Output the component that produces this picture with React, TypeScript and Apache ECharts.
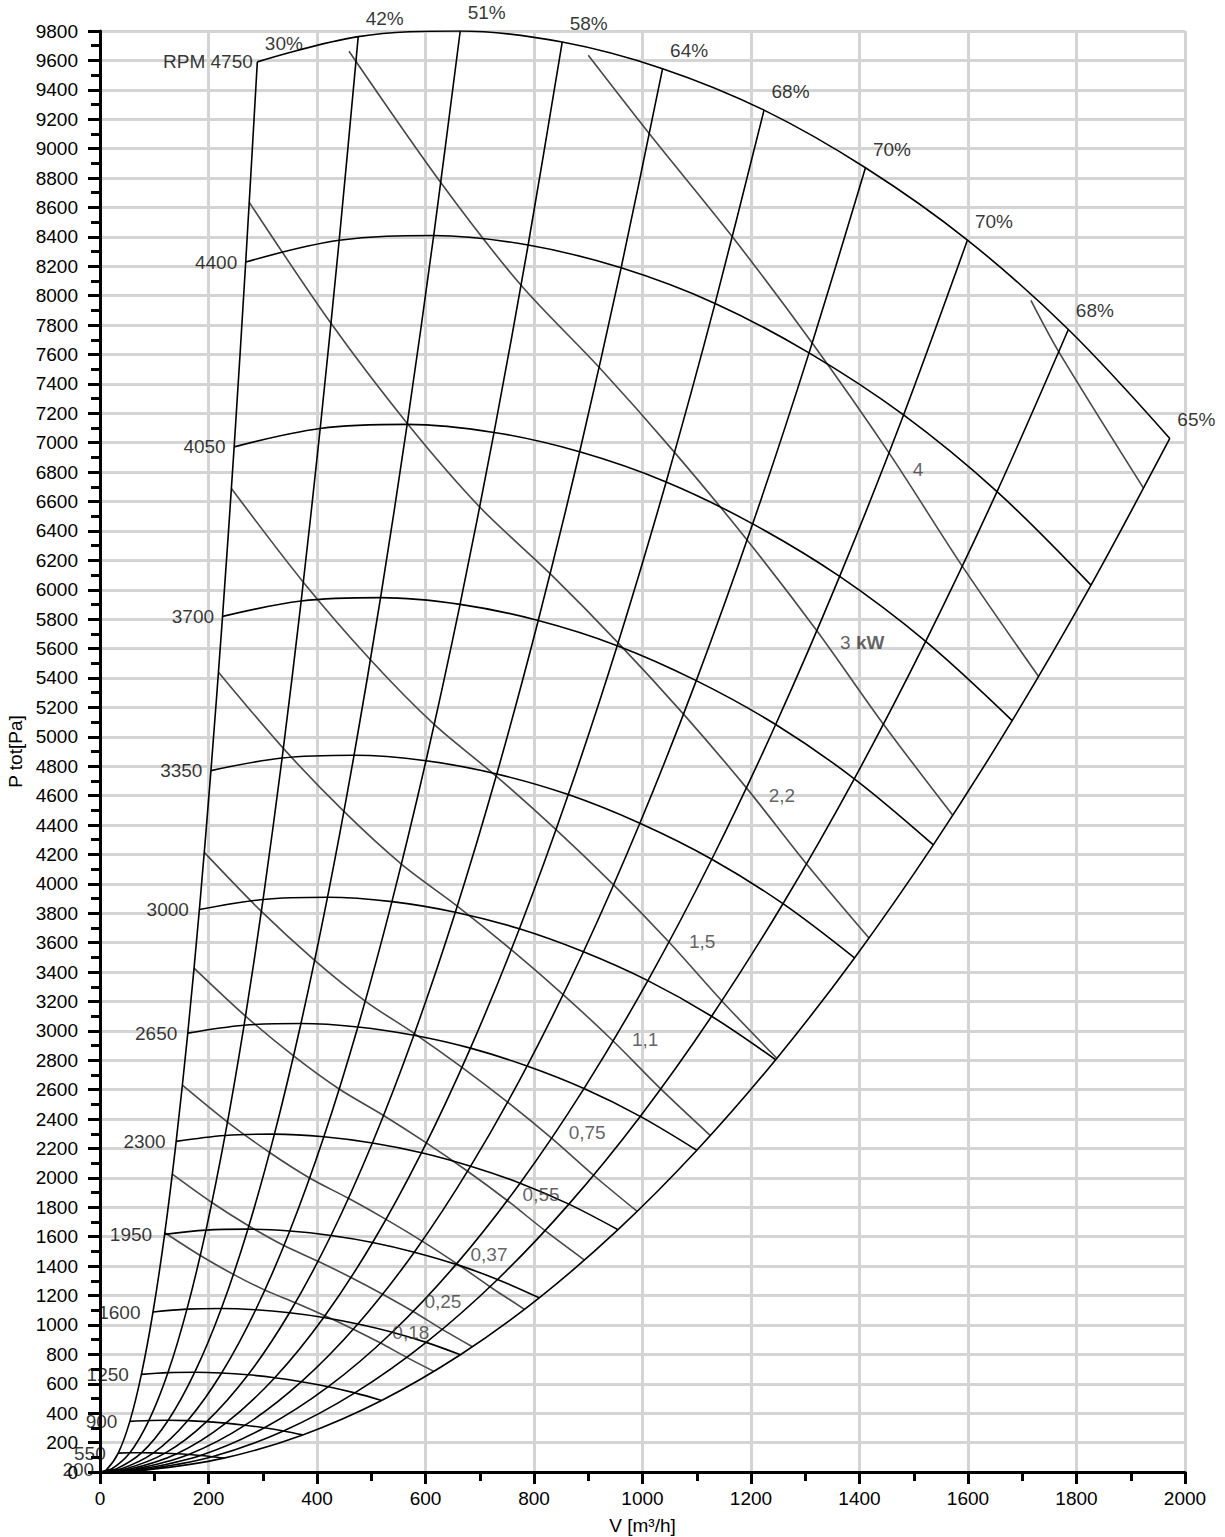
import React, { useEffect, useRef } from "react";
import * as echarts from "echarts";

// Fan speeds of the characteristic curves, top to bottom
const rpmSpeeds = [4750, 4400, 4050, 3700, 3350, 3000, 2650, 2300, 1950, 1600, 1250, 900, 550, 200];

// Efficiency marked at the upper end of each operating line (left boundary ... right boundary)
const efficiencyLabels = ["30%", "42%", "51%", "58%", "64%", "68%", "70%", "70%", "68%", "65%"];

// Flow [m³/h] of each speed curve where it meets the operating lines
const flowByRpm = [
  [290, 476, 664, 852, 1037, 1224, 1411, 1599, 1785, 1972],
  [268.6, 440.9, 615.1, 789.2, 960.6, 1133.8, 1307.0, 1481.2, 1653.5, 1826.7],
  [247.3, 405.9, 566.2, 726.4, 884.2, 1043.6, 1203.1, 1363.4, 1522.0, 1681.4],
  [225.9, 370.8, 517.2, 663.7, 807.8, 953.4, 1099.1, 1245.5, 1390.4, 1536.1],
  [204.5, 335.7, 468.3, 600.9, 731.4, 863.2, 995.1, 1127.7, 1258.9, 1390.8],
  [183.2, 300.6, 419.4, 538.1, 655.0, 773.1, 891.2, 1009.9, 1127.4, 1245.5],
  [161.8, 265.6, 370.4, 475.3, 578.5, 682.9, 787.2, 892.1, 995.8, 1100.2],
  [140.4, 230.5, 321.5, 412.6, 502.1, 592.7, 683.2, 774.3, 864.3, 954.9],
  [119.1, 195.4, 272.6, 349.8, 425.7, 502.5, 579.3, 656.4, 732.8, 809.6],
  [97.7, 160.3, 223.7, 287.0, 349.3, 412.3, 475.3, 538.6, 601.3, 664.3],
  [76.3, 125.3, 174.7, 224.2, 272.9, 322.1, 371.3, 420.8, 469.7, 519.0],
  [55.0, 90.2, 125.8, 161.4, 196.5, 231.9, 267.4, 303.0, 338.2, 373.6],
  [33.6, 55.1, 76.9, 98.7, 120.1, 141.7, 163.4, 185.2, 206.7, 228.3],
  [12.2, 20.0, 28.0, 35.9, 43.7, 51.5, 59.4, 67.3, 75.2, 83.0],
];

// Total pressure [Pa] at the same points
const pressureByRpm = [
  [9590, 9762, 9800, 9725, 9544, 9262, 8870, 8378, 7770, 7029],
  [8228.8, 8376.4, 8409.0, 8344.6, 8189.3, 7947.4, 7611.0, 7188.8, 6667.1, 6031.3],
  [6971.8, 7096.8, 7124.4, 7069.9, 6938.3, 6733.3, 6448.3, 6090.7, 5648.6, 5110.0],
  [5818.8, 5923.2, 5946.2, 5900.7, 5790.9, 5619.8, 5382.0, 5083.4, 4714.5, 4264.9],
  [4770.0, 4855.6, 4874.5, 4837.2, 4747.1, 4606.9, 4411.9, 4167.2, 3864.8, 3496.2],
  [3825.4, 3894.0, 3909.1, 3879.2, 3807.0, 3694.5, 3538.2, 3341.9, 3099.4, 2803.8],
  [2984.9, 3038.4, 3050.2, 3026.9, 2970.5, 2882.8, 2760.8, 2607.6, 2418.4, 2187.8],
  [2248.5, 2288.8, 2297.7, 2280.1, 2237.7, 2171.6, 2079.7, 1964.3, 1821.8, 1648.0],
  [1616.2, 1645.2, 1651.6, 1639.0, 1608.5, 1560.9, 1494.9, 1412.0, 1309.5, 1184.6],
  [1088.1, 1107.6, 1111.9, 1103.4, 1082.9, 1050.9, 1006.4, 950.6, 881.6, 797.5],
  [664.1, 676.0, 678.7, 673.5, 660.9, 641.4, 614.3, 580.2, 538.1, 486.8],
  [344.3, 350.5, 351.8, 349.1, 342.6, 332.5, 318.4, 300.8, 278.9, 252.3],
  [128.6, 130.9, 131.4, 130.4, 128.0, 124.2, 118.9, 112.3, 104.2, 94.2],
  [17.0, 17.3, 17.4, 17.2, 16.9, 16.4, 15.7, 14.9, 13.8, 12.5],
];

// Shaft power lines [kW]: 5.5, 4, 3, 2.2, 1.5, 1.1, 0.75, 0.55, 0.37, 0.25, 0.18
const powerLineFlow = [
  [1716, 1767.4, 1923.8],
  [900, 1012.7, 1165.7, 1312.8, 1454.4, 1589.4, 1730.1],
  [459, 628.1, 776.2, 920.0, 1059.1, 1192.8, 1321.4, 1444.1, 1571.9],
  [275.2, 425.8, 566.4, 699.9, 829.7, 955.1, 1075.6, 1191.6, 1302.3, 1417.5],
  [242.2, 374.8, 498.5, 616.0, 730.2, 840.6, 946.7, 1048.8, 1146.2, 1247.6],
  [218.4, 338.0, 449.6, 555.5, 658.5, 758.0, 853.7, 945.8, 1033.6, 1125.1],
  [192.2, 297.5, 395.7, 488.9, 579.6, 667.2, 751.4, 832.4, 909.7, 990.2],
  [173.3, 268.2, 356.8, 440.9, 522.7, 601.6, 677.6, 750.7, 820.4, 893.0],
  [151.9, 235.0, 312.7, 386.3, 458.0, 527.2, 593.7, 657.7, 718.8, 782.4],
  [133.3, 206.2, 274.4, 339.0, 401.9, 462.6, 521.0, 577.2, 630.8, 686.6],
  [119.5, 184.9, 245.9, 303.9, 360.2, 414.6, 466.9, 517.3, 565.3, 615.4],
];
const powerLinePressure = [
  [7968, 7617.9, 6689.6],
  [9635, 9101.1, 8400.2, 7678.2, 6931.0, 6160.7, 5410.1],
  [9662, 8769.2, 8070.6, 7512.7, 6934.3, 6338.3, 5721.3, 5085.5, 4466.0],
  [8634.5, 7811.9, 7131.2, 6563.1, 6109.4, 5639.0, 5154.3, 4652.6, 4135.6, 3631.8],
  [6688.8, 6051.6, 5524.3, 5084.2, 4732.7, 4368.3, 3992.9, 3604.2, 3203.7, 2813.4],
  [5439.4, 4921.2, 4492.4, 4134.5, 3848.6, 3552.4, 3247.0, 2931.0, 2605.3, 2287.9],
  [4213.7, 3812.3, 3480.1, 3202.8, 2981.4, 2751.9, 2515.4, 2270.5, 2018.2, 1772.3],
  [3426.6, 3100.2, 2830.0, 2604.6, 2424.5, 2237.9, 2045.5, 1846.4, 1641.2, 1441.3],
  [2630.8, 2380.2, 2172.8, 1999.7, 1861.4, 1718.1, 1570.5, 1417.6, 1260.1, 1106.5],
  [2025.7, 1832.8, 1673.0, 1539.8, 1433.3, 1323.0, 1209.2, 1091.5, 970.3, 852.1],
  [1627.3, 1472.3, 1344.0, 1236.9, 1151.4, 1062.8, 971.4, 876.9, 779.4, 684.5],
];

// Power line captions and where they sit
const powerLabelText = ["4", "3 {b|kW}", "2,2", "1,5", "1,1", "0,75", "0,55", "0,37", "0,25", "0,18"];
const powerLabelFlow = [1508, 1405, 1257, 1110, 1005, 898, 813, 717, 632, 573];
const powerLabelPressure = [6818, 5641, 4600, 3606, 2939, 2307, 1885, 1476, 1157, 946];

const FONT = "'Liberation Sans', Arial, Helvetica, sans-serif";
const CURVE = "#000000";
const POWER = "#484848";

function buildOption() {
  const series: any[] = [];

  // shaft power lines (grey)
  powerLineFlow.forEach((flows, k) => {
    series.push({
      type: "line",
      silent: true,
      symbol: "none",
      smooth: 0.3,
      z: 2,
      lineStyle: { color: POWER, width: 1.6 },
      data: flows.map((v, i) => [v, powerLinePressure[k][i]]),
    });
  });

  // speed curves
  rpmSpeeds.forEach((_, r) => {
    series.push({
      type: "line",
      silent: true,
      symbol: "none",
      smooth: 0.35,
      z: 3,
      lineStyle: { color: CURVE, width: 1.6 },
      data: flowByRpm[r].map((v, i) => [v, pressureByRpm[r][i]]),
    });
  });

  // operating (constant efficiency) lines from the origin up to the top speed curve
  efficiencyLabels.forEach((_, c) => {
    const pts: number[][] = [[0, 0]];
    for (let r = rpmSpeeds.length - 1; r >= 0; r--) pts.push([flowByRpm[r][c], pressureByRpm[r][c]]);
    series.push({
      type: "line",
      silent: true,
      symbol: "none",
      smooth: 0.3,
      z: 3,
      lineStyle: { color: CURVE, width: 1.6 },
      data: pts,
    });
  });

  // speed captions at the left end of each curve
  series.push({
    type: "scatter",
    silent: true,
    clip: false,
    symbolSize: 1,
    itemStyle: { color: "rgba(0,0,0,0)" },
    z: 5,
    data: rpmSpeeds.map((rpm, r) => ({
      value: [flowByRpm[r][0], pressureByRpm[r][0]],
      label: {
        show: true,
        position: "left",
        distance: rpm >= 4750 ? 4 : rpm >= 3350 ? 8 : rpm >= 2300 ? 10 : 12,
        formatter: r === 0 ? `RPM ${rpm}` : String(rpm),
        fontSize: 19,
        fontFamily: FONT,
        color: CURVE,
      },
    })),
  });

  // efficiency captions above the top end of each operating line
  series.push({
    type: "scatter",
    silent: true,
    clip: false,
    symbolSize: 1,
    itemStyle: { color: "rgba(0,0,0,0)" },
    z: 5,
    data: efficiencyLabels.map((txt, c) => ({
      value: [flowByRpm[0][c], pressureByRpm[0][c]],
      label: {
        show: true,
        position: [8, -18],
        align: "left",
        verticalAlign: "middle",
        formatter: txt,
        fontSize: 19,
        fontFamily: FONT,
        color: CURVE,
      },
    })),
  });

  // power captions
  series.push({
    type: "scatter",
    silent: true,
    clip: false,
    symbolSize: 1,
    itemStyle: { color: "rgba(0,0,0,0)" },
    z: 5,
    data: powerLabelText.map((txt, k) => ({
      value: [powerLabelFlow[k], powerLabelPressure[k]],
      label: {
        show: true,
        position: "inside",
        align: "center",
        verticalAlign: "middle",
        formatter: txt,
        fontSize: 19,
        fontFamily: FONT,
        color: "#3a3a3a",
        rich: {
          b: { fontSize: 19, fontFamily: FONT, fontWeight: "bold", color: "#3a3a3a" },
        },
      },
    })),
  });

  const plain = (v: number) => String(v);

  const axisCommon = {
    type: "value",
    axisLine: { show: true, onZero: false, lineStyle: { color: "#000", width: 3 } },
    axisTick: { show: true, inside: false, length: 12, lineStyle: { color: "#000", width: 3 } },
    minorTick: { show: true, splitNumber: 2, length: 9, lineStyle: { color: "#000", width: 3 } },
    splitLine: { show: true, lineStyle: { color: "#d4d4d4", width: 3 } },
    minorSplitLine: { show: false },
    nameTextStyle: { fontSize: 19, fontFamily: FONT, color: "#000" },
  };

  return {
    animation: false,
    backgroundColor: "#ffffff",
    textStyle: { fontFamily: FONT },
    grid: { left: 100, right: 40, top: 31, bottom: 65, containLabel: false, outerBoundsMode: "none" },
    xAxis: {
      ...axisCommon,
      min: 0,
      max: 2000,
      interval: 200,
      name: "V [m³/h]",
      nameLocation: "middle",
      nameGap: 44,
      axisLabel: {
        fontSize: 19,
        fontFamily: FONT,
        color: "#000",
        margin: 17,
        showMinLabel: true,
        showMaxLabel: true,
        formatter: plain,
      },
    },
    yAxis: {
      ...axisCommon,
      min: 0,
      max: 9800,
      interval: 200,
      name: "P tot[Pa]",
      nameLocation: "middle",
      nameRotate: 90,
      nameGap: 72,
      axisLabel: {
        fontSize: 19,
        fontFamily: FONT,
        color: "#000",
        margin: 22,
        showMinLabel: true,
        showMaxLabel: true,
        formatter: plain,
      },
    },
    series,
  };
}

export default function App() {
  const ref = useRef<HTMLDivElement>(null);
  useEffect(() => {
    if (!ref.current) return;
    const chart = echarts.init(ref.current, null, { renderer: "svg" });
    chart.setOption(buildOption() as any);
    return () => chart.dispose();
  }, []);
  return (
    <div
      ref={ref}
      style={{ position: "absolute", left: 0, top: 0, width: 1225, height: 1537, background: "#fff" }}
    />
  );
}
